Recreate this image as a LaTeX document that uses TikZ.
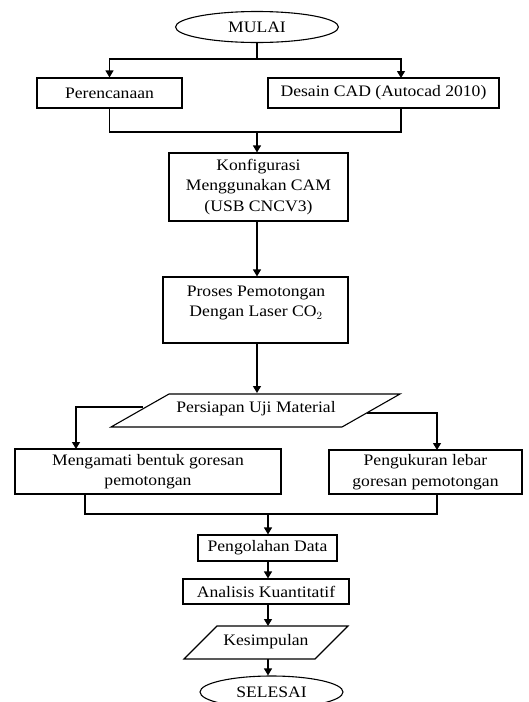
\documentclass[tikz,border=0pt]{standalone}
\usepackage{fontspec}
\setmainfont{Liberation Serif}[FakeStretch=1.1]
\usetikzlibrary{shapes.geometric,arrows.meta}
\begin{document}
\begin{tikzpicture}[x=1pt,y=-1pt,
  every node/.style={font=\fontsize{16}{20.5}\selectfont, inner sep=0pt, align=center},
  box/.style={draw, rectangle, line width=1.1pt},
  oval/.style={draw, ellipse, line width=1.1pt},
  ln/.style={line width=1.1pt},
  arr/.style={line width=1.1pt, -{Triangle[length=7pt,width=8pt]}}]
\useasboundingbox (0,0) rectangle (528,702);
% nodes
\node[oval, minimum width=163pt, minimum height=31pt] (mulai) at (257,27) {MULAI};
\node[box, minimum width=145pt, minimum height=30pt] (per) at (109.5,93) {Perencanaan};
\node[box, minimum width=231pt, minimum height=30pt] (cad) at (383.5,93) {Desain CAD (Autocad 2010)};
\node[box, minimum width=179pt, minimum height=68pt] (konf) at (258.5,187) {Konfigurasi\\Menggunakan CAM\\(USB CNCV3)};
\node[box, minimum width=185pt, minimum height=66pt] (proses) at (255.5,310) {};
\node (prosestxt) at (256,303) {Proses Pemotongan\\Dengan Laser CO$_2$};
\draw[ln] (169,394) -- (400,394) -- (342,427) -- (111,427) -- cycle;
\node (persiapan) at (256,409) {Persiapan Uji Material};
\node[box, minimum width=266pt, minimum height=45pt] (amati) at (148,471.5) {Mengamati bentuk goresan\\pemotongan};
\node[box, minimum width=193pt, minimum height=44pt] (ukur) at (425.5,472) {Pengukuran lebar\\goresan pemotongan};
\node[box, minimum width=139pt, minimum height=26pt] (olah) at (267.5,548) {Pengolahan Data};
\node[box, minimum width=166pt, minimum height=25pt] (analisis) at (266,591.5) {Analisis Kuantitatif};
\draw[ln] (217,626) -- (348,626) -- (315,659) -- (184,659) -- cycle;
\node (kesimpulan) at (266,642) {Kesimpulan};
\node[oval, minimum width=143pt, minimum height=32pt] (selesai) at (271.5,692) {SELESAI};
% coordinates
\coordinate (j1) at (257,59);
\coordinate (cadT) at (401,78);
\coordinate (cadB) at (401,108);
\coordinate (j2L) at (109.5,132);
\coordinate (j2R) at (401,132);
\coordinate (j2) at (257,132);
\coordinate (pT) at (257,393);
\coordinate (pL) at (143,407);
\coordinate (pLc) at (76,407);
\coordinate (amT) at (76,449);
\coordinate (pR) at (367,413);
\coordinate (pRc) at (437,413);
\coordinate (ukT) at (437,450);
\coordinate (amB) at (85,494);
\coordinate (ukB) at (437,494);
\coordinate (j4L) at (85,514);
\coordinate (j4R) at (437,514);
\coordinate (j4) at (268,514);
\coordinate (kT) at (268,626);
\coordinate (kB) at (268,659);
% connectors
\draw[ln] (mulai.south) -- (j1);
\draw[arr] (j1) -| (per.north);
\draw[arr] (j1) -| (cadT);
\draw[ln] (per.south) -- (j2L) -- (j2R) -- (cadB);
\draw[arr] (j2) -- (j2 |- konf.north);
\draw[arr] (konf.south -| j2) -- (j2 |- proses.north);
\draw[arr] (proses.south -| j2) -- (pT);
\draw[arr] (pL) -- (pLc) -- (amT);
\draw[arr] (pR) -- (pRc) -- (ukT);
\draw[ln] (amB) -- (j4L) -- (j4R) -- (ukB);
\draw[arr] (j4) -- (j4 |- olah.north);
\draw[arr] (olah.south -| j4) -- (j4 |- analisis.north);
\draw[arr] (analisis.south -| j4) -- (kT);
\draw[arr] (kB) -- (kB |- selesai.north);
\end{tikzpicture}
\end{document}
